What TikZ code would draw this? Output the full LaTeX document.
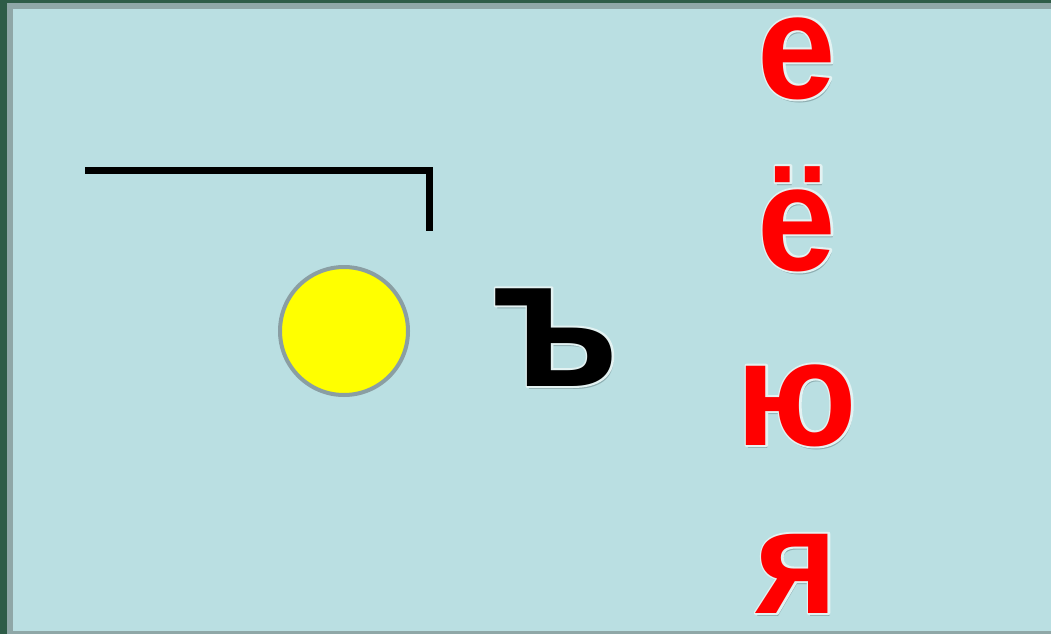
\documentclass[tikz,border=0pt]{standalone}
\usepackage{fontspec}
\setmainfont{Liberation Sans}
\newfontfamily\letterfont[FakeStretch=0.94]{Liberation Sans}
\usepackage{xcolor}
\usetikzlibrary{positioning}
\definecolor{SlideBlue}{HTML}{BADFE2}
\definecolor{FrameGreen}{HTML}{2E5C47}
\definecolor{FrameGrey}{HTML}{8FA7A7}
\definecolor{SunYellow}{HTML}{FFFF00}
\definecolor{SunEdge}{HTML}{8A9EA3}
\definecolor{VowelRed}{HTML}{FF0000}
\definecolor{ShadowGrey}{HTML}{6F8C90}
% light outline round a letter (stroked glyph, drawn under the filled one)
\newcommand{\glowtext}[1]{\special{pdf:literal direct 1 Tr 4 w 1 j 0.89 0.95 0.95 RG}#1\special{pdf:literal direct 0 Tr}}

\begin{document}
\begin{tikzpicture}[
  x=1pt, y=-1pt,
  vowel/.style={font=\letterfont\fontsize{150}{150}\selectfont\bfseries, inner sep=0pt, anchor=base, text=VowelRed},
  hardsign/.style={font=\letterfont\fontsize{185}{185}\selectfont\bfseries, inner sep=0pt, anchor=base, text=black},
  shade/.style={text=ShadowGrey, opacity=0.6},
  bracket/.style={line width=7pt, color=black},
]

% ===== slide frame =====
  \useasboundingbox (0,0) rectangle (1051,634);
  \fill[FrameGreen] (0,0) rectangle (1051,634);
  \fill[FrameGrey] (7,3) rectangle (1051,634);
  \fill[SlideBlue] (13,9) rectangle (1051,631);

% ===== word scheme : bracket and sun =====
  \coordinate (brL) at (85,170.5);
  \coordinate (brR) at (429.5,170.5);
  \coordinate (brD) at (429.5,230.5);
  \draw[bracket] (brL) -- (brR) -- (brD);
  \node[circle, draw=SunEdge, line width=4pt, fill=SunYellow, minimum size=128pt, inner sep=0pt]
    (sun) at (344,331) {};

% ===== hard sign =====
  \node[hardsign, shade] at (558,389) {ъ};
  \node[hardsign] at (556,386) {\glowtext{ъ}};
  \node[hardsign] (hard) at (556,386) {ъ};

% ===== vowels column =====
  \foreach \name/\ch/\base in {vowelE/е/98, vowelYo/ё/270, vowelYu/ю/445, vowelYa/я/613} {
    \node[vowel, shade] at (799,\base+3) {\ch};
    \node[vowel] at (797,\base) {\glowtext{\ch}};
    \node[vowel] (\name) at (797,\base) {\ch};
  }

\end{tikzpicture}
\end{document}
